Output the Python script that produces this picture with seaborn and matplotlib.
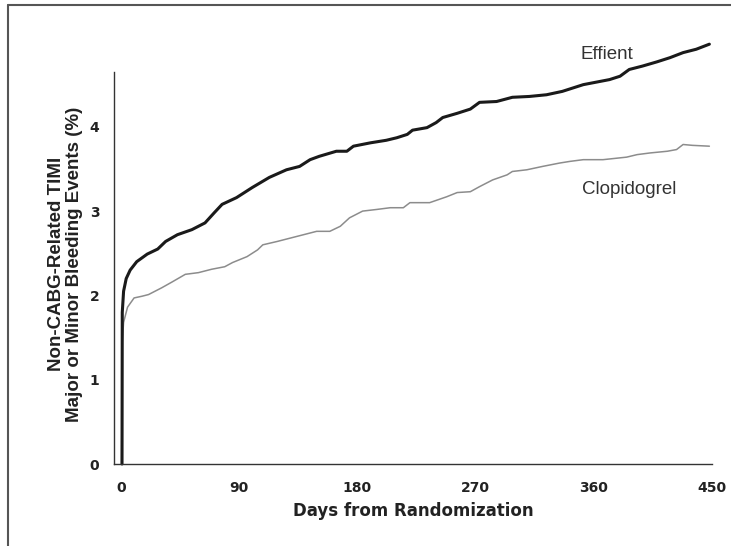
"""
Cumulative non-CABG TIMI major/minor bleeding, Effient vs Clopidogrel.
"""
import matplotlib
matplotlib.use("Agg")
import matplotlib.pyplot as plt
import seaborn as sns
import pandas as pd
from matplotlib.lines import Line2D

# values
effient_days = [0.8, 1, 2, 4, 7, 12, 20, 28, 34, 43, 54, 64, 71, 77, 88, 100, 113,
                126, 136, 144, 151, 164, 172, 177, 190, 202, 210, 218, 222, 233, 240,
                245, 256, 266, 273, 286, 298, 311, 324, 336, 352, 362, 372, 380, 387,
                397, 408, 418, 428, 438, 448]
effient_pct = [0.0, 1.8, 2.05, 2.2, 2.3, 2.4, 2.49, 2.55, 2.64, 2.72, 2.78, 2.86, 2.98,
               3.08, 3.16, 3.28, 3.40, 3.49, 3.53, 3.61, 3.65, 3.71, 3.71, 3.77, 3.81,
               3.84, 3.87, 3.91, 3.96, 3.99, 4.05, 4.11, 4.16, 4.21, 4.29, 4.30, 4.35,
               4.36, 4.38, 4.42, 4.50, 4.53, 4.56, 4.60, 4.68, 4.72, 4.77, 4.82, 4.88,
               4.92, 4.98]

clopi_days = [0.5, 1, 2, 5, 10, 16, 21, 31, 39, 49, 59, 69, 79, 85, 96, 104, 108, 119,
              129, 139, 149, 159, 167, 174, 184, 195, 205, 215, 220, 235, 248, 256, 266,
              273, 283, 294, 298, 309, 321, 334, 342, 352, 367, 385, 393, 403, 416, 423,
              428, 435, 448]
clopi_pct = [0.0, 1.45, 1.68, 1.86, 1.97, 1.99, 2.01, 2.09, 2.16, 2.25, 2.27, 2.31, 2.34,
             2.39, 2.46, 2.54, 2.60, 2.64, 2.68, 2.72, 2.76, 2.76, 2.82, 2.92, 3.00, 3.02,
             3.04, 3.04, 3.10, 3.10, 3.17, 3.22, 3.23, 3.29, 3.37, 3.43, 3.47, 3.49, 3.53,
             3.57, 3.59, 3.61, 3.61, 3.64, 3.67, 3.69, 3.71, 3.73, 3.79, 3.78, 3.77]

x_ticks = [0, 90, 180, 270, 360, 450]
y_ticks = [0, 1, 2, 3, 4]

sns.set_style("white")
plt.rcParams["font.family"] = ["DejaVu Sans"]

eff = pd.DataFrame({"day": effient_days, "pct": effient_pct})
clo = pd.DataFrame({"day": clopi_days, "pct": clopi_pct})

fig = plt.figure(figsize=(7.31, 5.46), dpi=100)
ax = fig.add_axes([114 / 731, 1 - 464 / 546, 598 / 731, 392 / 546])

sns.lineplot(data=clo, x="day", y="pct", ax=ax, color="#8c8c8c", linewidth=1.1,
             estimator=None, sort=False, clip_on=False)
sns.lineplot(data=eff, x="day", y="pct", ax=ax, color="#1a1a1a", linewidth=2.2,
             estimator=None, sort=False, clip_on=False)

ax.set_xlim(-5.3, 450)
ax.set_ylim(0, 4.65)
ax.set_xticks(x_ticks)
ax.set_yticks(y_ticks)
ax.tick_params(axis="both", direction="inout", length=3, width=1.2, colors="#222222",
               labelsize=10)
ax.tick_params(axis="x", pad=11)
ax.tick_params(axis="y", pad=9)
for lab in ax.get_xticklabels() + ax.get_yticklabels():
    lab.set_fontweight("bold")

sns.despine(ax=ax)
for side in ["left", "bottom"]:
    ax.spines[side].set_color("#333333")
    ax.spines[side].set_linewidth(1.0)

ax.set_xlabel("Days from Randomization", fontsize=12, fontweight="bold",
              color="#222222", labelpad=5)
ax.set_ylabel("Non-CABG-Related TIMI\nMajor or Minor Bleeding Events (%)",
              fontsize=13.5, fontweight="bold", color="#222222",
              family=["Liberation Sans"], linespacing=1.1)
ax.yaxis.set_label_coords(-0.052, 0.51)

ax.text(370, 4.86, "Effient", fontsize=13.5, color="#333333", ha="center",
        va="center", family=["Liberation Sans"])
ax.text(387, 3.26, "Clopidogrel", fontsize=13.5, color="#333333", ha="center",
        va="center", family=["Liberation Sans"])

# scan border on left and top
fig.add_artist(Line2D([8 / 731, 8 / 731], [0, 1 - 4.5 / 546], transform=fig.transFigure,
                      color="#555555", linewidth=1.5))
fig.add_artist(Line2D([8 / 731, 1], [1 - 4.5 / 546, 1 - 4.5 / 546],
                      transform=fig.transFigure, color="#555555", linewidth=1.5))

fig.savefig("out.png", dpi=100, facecolor="white")
